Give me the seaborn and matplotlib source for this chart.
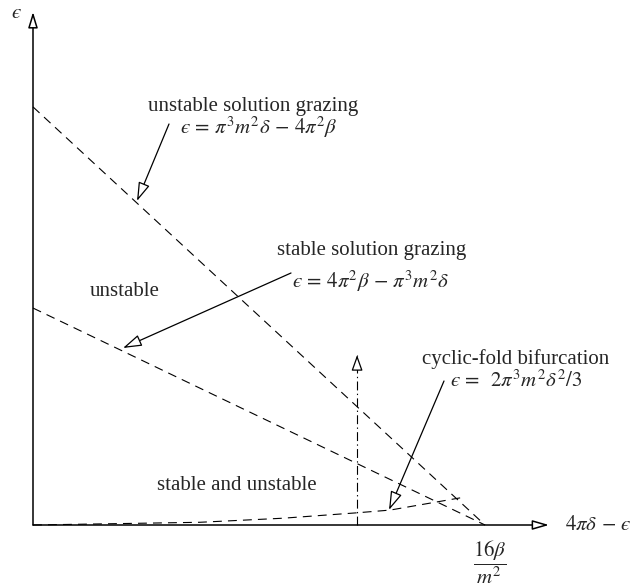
import numpy as np
import pandas as pd
import matplotlib
matplotlib.use("Agg")
import matplotlib.pyplot as plt
import seaborn as sns

# ---- data (normalised: 16*beta/m^2 = 1 on the horizontal axis) ----
unstable_graze_x = [0.0, 1.0]
unstable_graze_y = [0.925, 0.0]
stable_graze_x = [0.0, 1.0]
stable_graze_y = [0.480, 0.0]
fold_x = [0.0, 0.369, 0.553, 0.717, 0.790, 0.945]
fold_y = [0.0, 0.006, 0.015, 0.027, 0.033, 0.060]
delta_line_x = [0.717, 0.717]
delta_line_y = [0.0, 0.376]

sns.set_theme(style="white")
plt.rcParams["font.family"] = ["Liberation Serif", "DejaVu Serif"]
plt.rcParams["mathtext.fontset"] = "stix"

W, H = 633, 588
fig = plt.figure(figsize=(W / 100, H / 100), dpi=100)
ax = fig.add_axes([0, 0, 1, 1])
S = 452.0
X0, Y0 = 33.0, 525.0


def P(px, py):
    return ((px - X0) / S, (Y0 - py) / S)


dash = (0, (8, 5.5))
df1 = pd.DataFrame({"x": unstable_graze_x, "y": unstable_graze_y})
df2 = pd.DataFrame({"x": stable_graze_x, "y": stable_graze_y})
df3 = pd.DataFrame({"x": fold_x, "y": fold_y})
for d in (df1, df2, df3):
    sns.lineplot(data=d, x="x", y="y", ax=ax, color="black", lw=0.8,
                 linestyle=dash, sort=False, estimator=None)
ax.plot(delta_line_x, delta_line_y, color="black", lw=0.8,
        linestyle=(0, (8, 3, 1.2, 3)))
ax.set_xlim(-X0 / S, (W - X0) / S)
ax.set_ylim(-(H - Y0) / S, Y0 / S)
ax.axis("off")

# vertical arrow head (open)
ax.annotate("", xy=(delta_line_x[1], delta_line_y[1]),
            xytext=(delta_line_x[1], delta_line_y[1] - 0.03),
            arrowprops=dict(arrowstyle="-|>,head_length=9.5,head_width=3.4",
                            mutation_scale=1, fc="white", ec="black", lw=0.9,
                            shrinkA=0, shrinkB=0))

# axes with open arrowheads
ax.annotate("", xy=P(549, Y0), xytext=P(X0, Y0),
            arrowprops=dict(arrowstyle="-|>,head_length=10,head_width=2.9",
                            mutation_scale=1, fc="white", ec="black", lw=1.1,
                            shrinkA=0, shrinkB=0))
ax.annotate("", xy=P(X0, 12), xytext=P(X0, Y0),
            arrowprops=dict(arrowstyle="-|>,head_length=9.5,head_width=2.9",
                            mutation_scale=1, fc="white", ec="black", lw=1.1,
                            shrinkA=0, shrinkB=0))

fs = 15
aprops = dict(arrowstyle="-|>,head_length=11.5,head_width=3.6",
              mutation_scale=1, fc="white", ec="black", lw=0.9,
              shrinkA=0, shrinkB=0)
ax.annotate("", xy=P(137, 201), xytext=P(169, 124), arrowprops=aprops)
ax.annotate("", xy=P(123, 348), xytext=P(291, 273), arrowprops=aprops)
ax.annotate("", xy=P(389, 510), xytext=P(444, 381), arrowprops=aprops)

ax.text(*P(148, 106), "unstable solution grazing", fontsize=fs,
        ha="left", va="center")
ax.text(*P(180, 127), r"$ϵ\,=\,\pi^3 m^2\delta\, -\, 4\pi^2\beta$",
        fontsize=fs, ha="left", va="center")
ax.text(*P(277, 250), "stable solution grazing", fontsize=fs,
        ha="left", va="center")
ax.text(*P(292, 281), r"$ϵ\,=\,4\pi^2\beta\, -\, \pi^3 m^2\delta$",
        fontsize=fs, ha="left", va="center")
ax.text(*P(422, 359), "cyclic-fold bifurcation", fontsize=fs,
        ha="left", va="center")
ax.text(*P(450, 381), r"$ϵ\,=\;\; 2\pi^3 m^2\delta^2/3$",
        fontsize=fs, ha="left", va="center")
ax.text(*P(90, 292), "unstable", fontsize=fs, ha="left", va="center")
ax.text(*P(157, 486), "stable and unstable", fontsize=fs,
        ha="left", va="center")
ax.text(*P(16, 14), r"$ϵ$", fontsize=fs, ha="center", va="center")
ax.text(*P(565, 525), r"$4\pi\delta\, -\, ϵ$", fontsize=fs,
        ha="left", va="center")
ax.text(*P(490, 562), r"$\dfrac{16\beta}{m^2}$", fontsize=fs,
        ha="center", va="center")

fig.savefig("out.png", dpi=100)
